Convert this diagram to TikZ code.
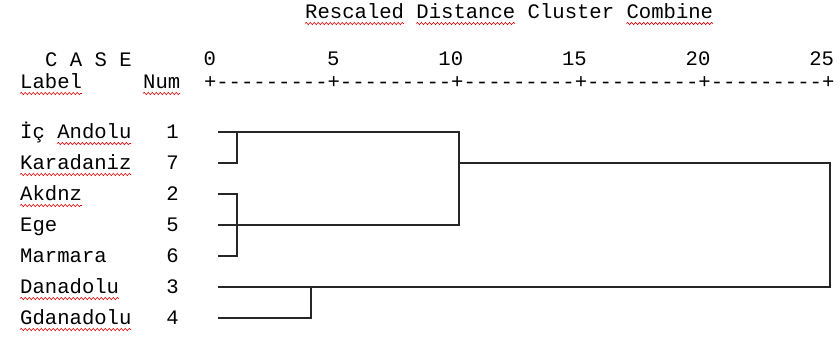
\documentclass[tikz,border=0pt]{standalone}
\usepackage{fontspec}
\setmonofont{Liberation Mono}
\usepackage{tikz}
\usetikzlibrary{decorations.pathmorphing}

\tikzset{
    txt/.style={font=\ttfamily\fontsize{20.6}{22}\selectfont, inner sep=0pt, anchor=base west},
    numtxt/.style={txt, anchor=base east},
    wavy/.style={red!85!black, line width=0.6pt, decorate, decoration={snake, segment length=4pt, amplitude=1.1pt}},
    tree/.style={line width=1.5pt, black!85}
}
% red underline below chars #2..#2+#3 of node #1
\newcommand{\spellmark}[3]{\draw[wavy] ([xshift=#2*12.36pt, yshift=-5.5pt]#1.base west) -- ++(#3*12.36,0);}

\begin{document}
\begin{tikzpicture}[x=1pt, y=-1pt]
    \useasboundingbox (0,0) rectangle (840,338);

    % header
    \node[txt] (title) at (305,18) {Rescaled Distance Cluster Combine};
    \node[txt] (case) at (45,66) {C A S E};
    \node[txt] (lbl) at (20,88) {Label};
    \node[txt] (num) at (143,88) {Num};
    \node[txt] (axis) at (203.82,88) {+---------+---------+---------+---------+---------+};
    \node[numtxt] (t0) at (216.2,65) {0};
    \node[numtxt] (t5) at (339.8,65) {5};
    \node[numtxt] (t10) at (463.4,65) {10};
    \node[numtxt] (t15) at (587.0,65) {15};
    \node[numtxt] (t20) at (710.6,65) {20};
    \node[numtxt] (t25) at (834.2,65) {25};

    % cases
    \node[txt] (ic) at (20,138) {İç Andolu};
    \node[txt] (kar) at (20,169) {Karadaniz};
    \node[txt] (akd) at (20,200) {Akdnz};
    \node[txt] (ege) at (20,231) {Ege};
    \node[txt] (mar) at (20,262) {Marmara};
    \node[txt] (dan) at (20,293) {Danadolu};
    \node[txt] (gda) at (20,324) {Gdanadolu};
    \node[numtxt] (k1) at (179,138) {1};
    \node[numtxt] (k7) at (179,169) {7};
    \node[numtxt] (k2) at (179,200) {2};
    \node[numtxt] (k5) at (179,231) {5};
    \node[numtxt] (k6) at (179,262) {6};
    \node[numtxt] (k3) at (179,293) {3};
    \node[numtxt] (k4) at (179,324) {4};

    % spelling marks
    \spellmark{title}{0}{8}
    \spellmark{title}{9}{8}
    \spellmark{title}{26}{7}
    \spellmark{lbl}{0}{5}
    \spellmark{num}{0}{3}
    \spellmark{ic}{3}{6}
    \spellmark{kar}{0}{9}
    \spellmark{akd}{0}{5}
    \spellmark{dan}{0}{8}
    \spellmark{gda}{0}{9}

    % dendrogram
    \coordinate (l1) at (218,132);
    \coordinate (l7) at (218,163);
    \coordinate (l2) at (218,194);
    \coordinate (l5) at (218,225);
    \coordinate (l6) at (218,256);
    \coordinate (l3) at (218,287);
    \coordinate (l4) at (218,318);
    \coordinate (c1) at (237,0);
    \coordinate (c2) at (311,0);
    \coordinate (c3) at (459,0);
    \coordinate (c4) at (830,0);

    \draw[tree] (l7) -| (c1 |- l1);
    \draw[tree] (l2) -| (c1 |- l6) -- (l6);
    \draw[tree] (l1) -| (c3 |- l5) -- (l5);
    \draw[tree] (c3 |- l7) -| (c4 |- l3) -- (l3);
    \draw[tree] (l4) -| (c2 |- l3);
\end{tikzpicture}
\end{document}
